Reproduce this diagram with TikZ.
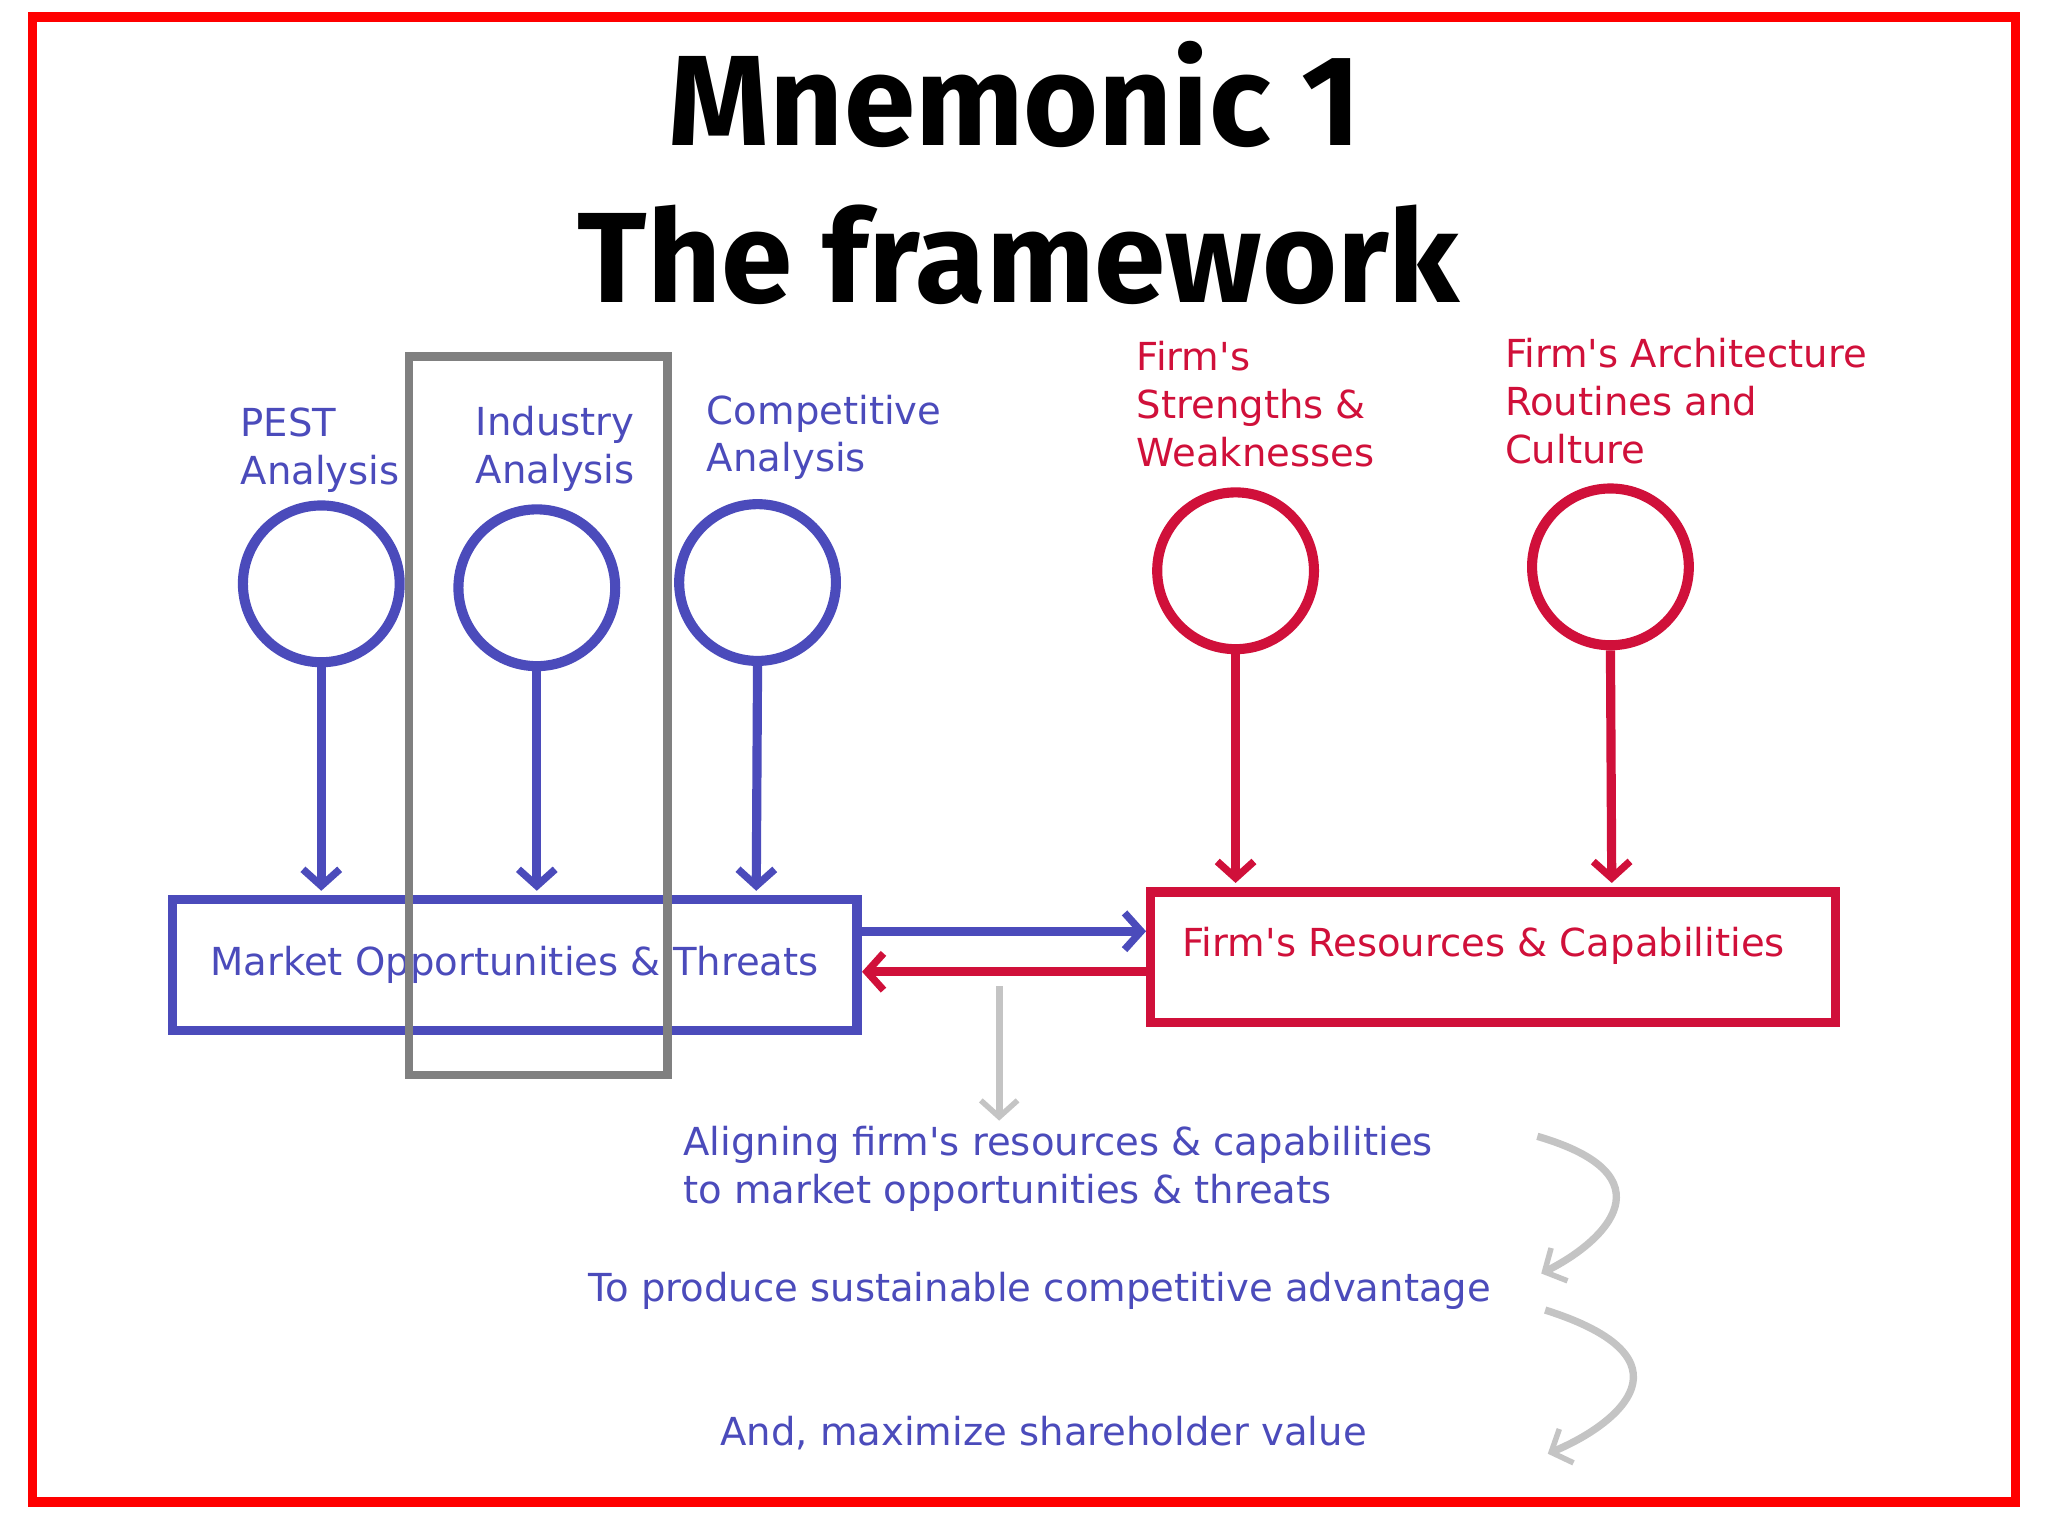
\documentclass[tikz,border=0pt]{standalone}
\usepackage{fontspec}
\setmainfont{DejaVu Sans}[Ligatures=TeXOff]
\newfontfamily\titlefont{Fira Sans}
\usetikzlibrary{arrows.meta}
\definecolor{mblue}{HTML}{4B4BBB}
\definecolor{mred}{HTML}{D0103A}
\definecolor{mgray}{HTML}{808080}
\definecolor{lgray}{HTML}{C4C4C4}
\tikzset{
	circ/.style={circle,line width=5.5pt,minimum size=3cm,inner sep=0pt},
	lbl/.style={font=\fontsize{21}{26}\selectfont,align=left,anchor=north west,inner sep=0pt},
	boxx/.style={line width=5pt,minimum width=13.1cm,minimum height=2.5cm,inner sep=0pt},
	down/.style={line width=5pt,-{Straight Barb[length=9pt,width=20pt,line width=4pt]}},
	garrow/.style={line width=4pt,lgray,-{Straight Barb[length=9pt,width=20pt,line width=3pt]}}
}
\begin{document}
\begin{tikzpicture}[x=0.025cm,y=-0.025cm]
	\useasboundingbox (0,0) rectangle (1568,1176);
	%FRAME
	\draw[line width=5pt,red] (25,13) rectangle (1543,1150);
	%TITLE
	\node (t1) at (777,72) {\titlefont\bfseries\fontsize{70}{80}\selectfont Mnemonic\ 1};
	\node (t2) at (780,195) {\titlefont\bfseries\fontsize{70}{80}\selectfont The\ framework};
	%CIRCLES
	\node[circ,draw=mblue] (c1) at (246,447) {};
	\node[circ,draw=mblue] (c2) at (411,450) {};
	\node[circ,draw=mblue] (c3) at (580,446) {};
	\node[circ,draw=mred] (c4) at (946,437) {};
	\node[circ,draw=mred] (c5) at (1233,434) {};
	%LABELS
	\node[lbl,mblue] (l1) at (184,312) {PEST\\Analysis};
	\node[lbl,mblue] (l2) at (364,311) {Industry\\Analysis};
	\node[lbl,mblue] (l3) at (541,302) {Competitive\\Analysis};
	\node[lbl,mred] (l4) at (870,261) {Firm's\\Strengths \&\\Weaknesses};
	\node[lbl,mred] (l5) at (1152,259) {Firm's Architecture\\Routines and\\Culture};
	%BOXES
	\node[boxx,draw=mblue,text=mblue,font=\fontsize{21}{26}\selectfont] (mkt) at (394,739) {Market Opportunities \& Threats};
	\node[boxx,draw=mred,text=mred,font=\fontsize{21}{26}\selectfont] (res) at (1143,733) {};
	\node[mred,font=\fontsize{21}{26}\selectfont] (rest) at (1136,724) {Firm's Resources \& Capabilities};
	\draw[line width=4.5pt,mgray] (313,273) rectangle (511,823);
	%ARROWS
	\foreach \c/\x in {c1/246,c2/411,c3/579} \draw[down,mblue] (\c.south) -- (\x,682);
	\foreach \c/\x in {c4/946,c5/1234} \draw[down,mred] (\c.south) -- (\x,676);
	\coordinate (ab) at (660,713);
	\coordinate (ar) at (660,744);
	\draw[line width=5pt,mblue,-{Straight Barb[length=9pt,width=20pt,line width=4pt]}] (ab) -- (ab -| res.west);
	\draw[line width=5pt,mred,-{Straight Barb[length=9pt,width=20pt,line width=4pt]}] (ar -| res.west) -- (ar);
	\coordinate (g0) at (765,755);
	\coordinate (g1) at (765,858);
	\draw[garrow] (g0) -- (g1);
	%BOTTOM TEXT
	\node[lbl,mblue] (b1) at (523,862) {Aligning firm's resources \& capabilities\\to market opportunities \& threats};
	\node[mblue,font=\fontsize{21}{26}\selectfont] (b2) at (796,988) {To produce sustainable competitive advantage};
	\node[mblue,font=\fontsize{21}{26}\selectfont] (b3) at (799,1097) {And, maximize shareholder value};
	\coordinate (s1) at (1177,870);
	\coordinate (e1) at (1180,975);
	\coordinate (s2) at (1183,1003);
	\coordinate (e2) at (1185,1113);
	\draw[garrow] (s1) .. controls (1280,900) and (1230,950) .. (e1);
	\draw[garrow] (s2) .. controls (1300,1040) and (1240,1090) .. (e2);
\end{tikzpicture}
\end{document}
